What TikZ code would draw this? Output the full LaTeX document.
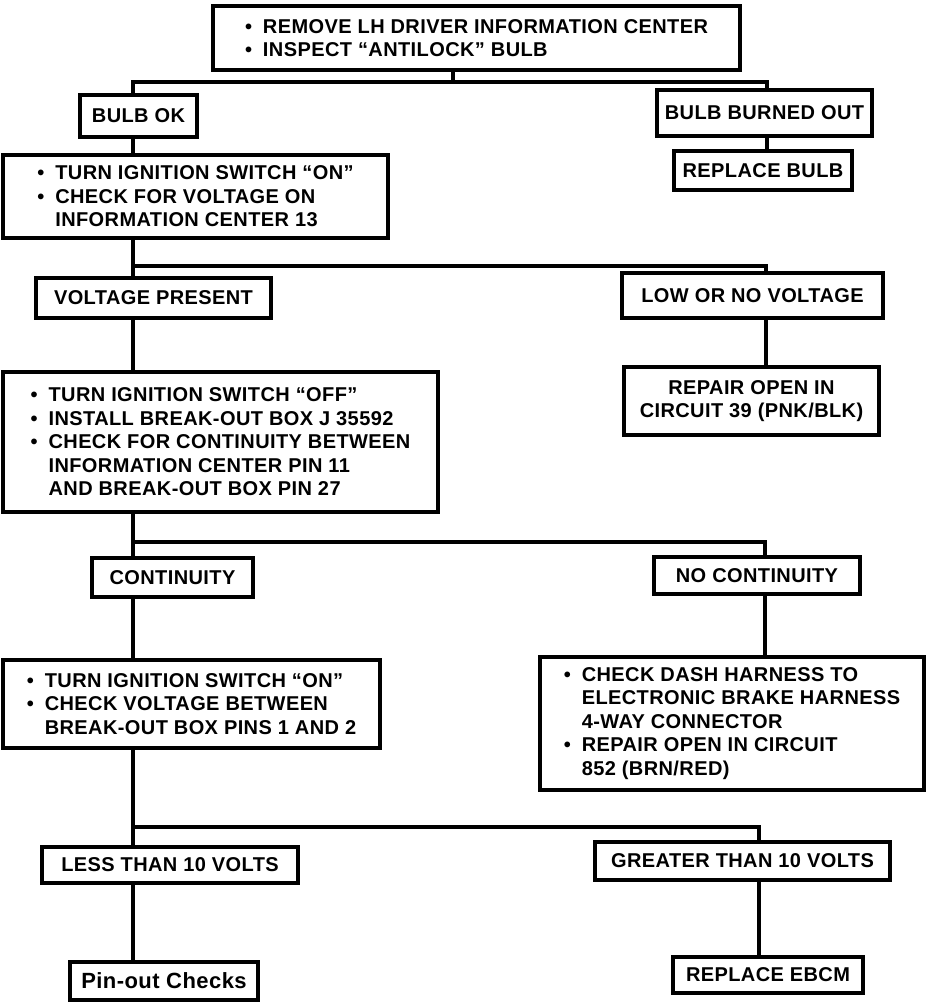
\documentclass[tikz,border=0pt]{standalone}
\usepackage{fontspec}
\setmainfont{Liberation Sans}[LetterSpace=2]
\newcommand{\bul}{\makebox[18pt][l]{\textbullet}}
\newcommand{\ind}{\hspace*{18pt}}

\begin{document}
\begin{tikzpicture}[x=1pt, y=-1pt,
		infobox/.style={draw, line width=3.5pt, inner sep=2pt, align=left,
			font=\fontsize{20}{23.5}\selectfont\bfseries},
		link/.style={line width=3.3pt}]
		
		\useasboundingbox (0,0) rectangle (944,1002);
		
		%Boxes of the left column
		\node[infobox, minimum width=527, minimum height=64] (remove) at (476.5,38)
		{\bul REMOVE LH DRIVER INFORMATION CENTER\\ \bul INSPECT “ANTILOCK” BULB};
		\node[infobox, minimum width=117, minimum height=42] (bulbok) at (138.5,116) {BULB OK};
		\node[infobox, minimum width=385, minimum height=83] (ignon) at (195.5,196.5)
		{\bul TURN IGNITION SWITCH “ON”\\ \bul CHECK FOR VOLTAGE ON\\ \ind INFORMATION CENTER 13};
		\node[infobox, minimum width=235, minimum height=40] (vpresent) at (153.5,298) {VOLTAGE PRESENT};
		\node[infobox, minimum width=435, minimum height=140] (ignoff) at (220.5,442)
		{\bul TURN IGNITION SWITCH “OFF”\\ \bul INSTALL BREAK-OUT BOX J 35592\\
			\bul CHECK FOR CONTINUITY BETWEEN\\ \ind INFORMATION CENTER PIN 11\\
			\ind AND BREAK-OUT BOX PIN 27};
		\node[infobox, minimum width=161, minimum height=39] (cont) at (172.5,577.5) {CONTINUITY};
		\node[infobox, minimum width=377, minimum height=88] (ignon2) at (191.5,704)
		{\bul TURN IGNITION SWITCH “ON”\\ \bul CHECK VOLTAGE BETWEEN\\ \ind BREAK-OUT BOX PINS 1 AND 2};
		\node[infobox, minimum width=256, minimum height=36] (less) at (170,865) {LESS THAN 10 VOLTS};
		\node[infobox, minimum width=188, minimum height=38, font=\fontsize{22}{26}\selectfont\bfseries]
		(pinout) at (164,981) {Pin-out Checks};
		
		%Boxes of the right column
		\node[infobox, minimum width=215, minimum height=46] (burned) at (764.5,113) {BULB BURNED OUT};
		\node[infobox, minimum width=178, minimum height=39] (replbulb) at (763,170.5) {REPLACE BULB};
		\node[infobox, minimum width=261, minimum height=45] (lowv) at (752.5,295.5) {LOW OR NO VOLTAGE};
		\node[infobox, minimum width=255, minimum height=68, align=center] (repair39) at (751.5,401)
		{REPAIR OPEN IN\\ CIRCUIT 39 (PNK/BLK)};
		\node[infobox, minimum width=206, minimum height=37] (nocont) at (757,575.5) {NO CONTINUITY};
		\node[infobox, minimum width=384, minimum height=133] (dash) at (732,723.5)
		{\bul CHECK DASH HARNESS TO\\ \ind ELECTRONIC BRAKE HARNESS\\ \ind 4-WAY CONNECTOR\\
			\bul REPAIR OPEN IN CIRCUIT\\ \ind 852 (BRN/RED)};
		\node[infobox, minimum width=295, minimum height=38] (greater) at (742.5,861) {GREATER THAN 10 VOLTS};
		\node[infobox, minimum width=190, minimum height=36] (ebcm) at (768,975) {REPLACE EBCM};
		
		%Branch points
		\coordinate (k1) at (453,82);
		\coordinate (b1L) at (133,82);
		\coordinate (b1R) at (767,82);
		\coordinate (b2L) at (133,266);
		\coordinate (b2R) at (766,266);
		\coordinate (b3L) at (133,542);
		\coordinate (b3R) at (765,542);
		\coordinate (b4L) at (133,827);
		\coordinate (b4R) at (759,827);
		
		%First branch
		\draw[link] (remove.south -| k1) -- (k1);
		\draw[link] (bulbok.north -| b1L) -- (b1L) -- (b1R) -- (burned.north -| b1R);
		\draw[link] (burned.south -| b1R) -- (replbulb.north -| b1R);
		\draw[link] (bulbok.south -| b1L) -- (ignon.north -| b1L);
		
		%Second branch
		\draw[link] (ignon.south -| b2L) -- (vpresent.north -| b2L);
		\draw[link] (b2L) -- (b2R) -- (lowv.north -| b2R);
		\draw[link] (lowv.south -| b2R) -- (repair39.north -| b2R);
		\draw[link] (vpresent.south -| b2L) -- (ignoff.north -| b2L);
		
		%Third branch
		\draw[link] (ignoff.south -| b3L) -- (cont.north -| b3L);
		\draw[link] (b3L) -- (b3R) -- (nocont.north -| b3R);
		\draw[link] (nocont.south -| b3R) -- (dash.north -| b3R);
		\draw[link] (cont.south -| b3L) -- (ignon2.north -| b3L);
		
		%Fourth branch
		\draw[link] (ignon2.south -| b4L) -- (less.north -| b4L);
		\draw[link] (b4L) -- (b4R) -- (greater.north -| b4R);
		\draw[link] (greater.south -| b4R) -- (ebcm.north -| b4R);
		\draw[link] (less.south -| b4L) -- (pinout.north -| b4L);
		
\end{tikzpicture}
\end{document}
